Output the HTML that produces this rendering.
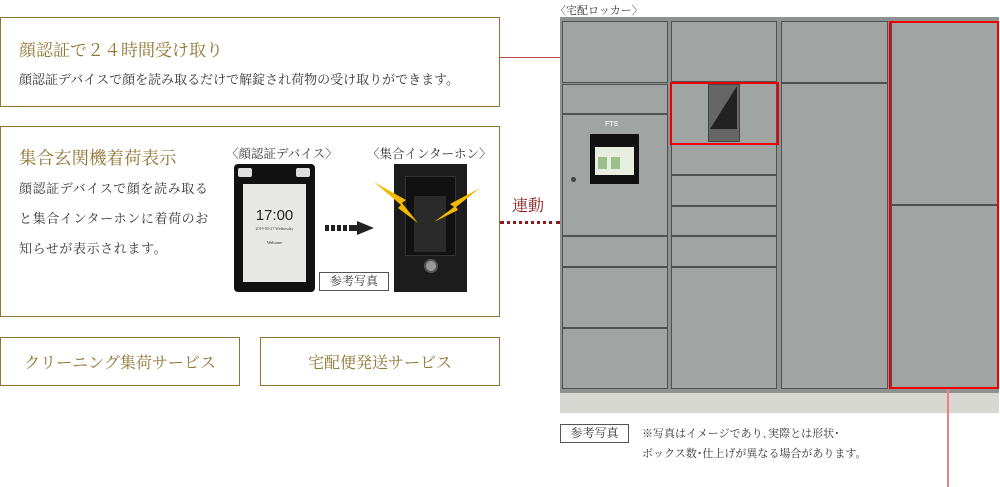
<!DOCTYPE html>
<html><head><meta charset="utf-8"><style>
*{margin:0;padding:0;box-sizing:border-box}
body{width:1000px;height:487px;background:#fff;position:relative;overflow:hidden;font-family:"Liberation Serif","Noto Serif CJK SC",serif;color:#333}
.a{position:absolute}
.box{position:absolute;border:1.5px solid #8f7530}
.gold{color:#8f7530}
.door{position:absolute;background:#a0a4a2;border:1px solid #4d5150}
.ref{position:absolute;border:1px solid #555;font-size:12px;text-align:center;line-height:17px;background:#fff}
</style></head><body>
<div class="box" style="left:0;top:17px;width:500px;height:90px"></div>
<div class="a gold" style="left:19px;top:36px;font-size:17px;white-space:nowrap">顔認証で２４時間受け取り</div>
<div class="a" style="left:19px;top:69px;font-size:13px;white-space:nowrap">顔認証デバイスで顔を読み取るだけで解錠され荷物の受け取りができます。</div>

<div class="box" style="left:0;top:126px;width:500px;height:191px"></div>
<div class="a gold" style="left:19px;top:145px;font-size:17.5px;white-space:nowrap">集合玄関機着荷表示</div>
<div class="a" style="left:19px;top:174px;font-size:13px;line-height:30px;white-space:nowrap;letter-spacing:0.6px">顔認証デバイスで顔を読み取る<br>と集合インターホンに着荷のお<br>知らせが表示されます。</div>
<div class="a" style="left:226px;top:144px;font-size:12.5px;white-space:nowrap">〈顔認証デバイス〉</div>
<div class="a" style="left:367px;top:144px;font-size:12.5px;white-space:nowrap">〈集合インターホン〉</div>
<div class="a" style="left:234px;top:164px;width:81px;height:128px;background:#111;border-radius:4px"></div>
<div class="a" style="left:238px;top:168px;width:14px;height:9px;background:#ddd;border-radius:2px"></div>
<div class="a" style="left:296px;top:168px;width:14px;height:9px;background:#ddd;border-radius:2px"></div>
<div class="a" style="left:243px;top:184px;width:63px;height:98px;background:#e8e8e6"></div>
<div class="a" style="left:243px;top:207px;width:63px;text-align:center;font-family:'Liberation Sans',sans-serif;font-size:15px;color:#222">17:00</div>
<div class="a" style="left:243px;top:226px;width:63px;text-align:center;font-size:4px;color:#444">2019-03-27 Wednesday</div>
<div class="a" style="left:243px;top:240px;width:63px;text-align:center;font-size:4px;color:#222">Welcome</div>
<svg class="a" style="left:324px;top:220px" width="52" height="16"><g fill="#222"><rect x="1" y="5" width="4" height="6"/><rect x="7" y="5" width="4" height="6"/><rect x="13" y="5" width="4" height="6"/><rect x="19" y="5" width="4" height="6"/><rect x="25" y="5" width="8" height="6"/><polygon points="33,1 50,8 33,15"/></g></svg>
<div class="ref" style="left:319px;top:272px;width:70px;height:19px">参考写真</div>
<div class="a" style="left:394px;top:164px;width:73px;height:128px;background:#1c1c1c"></div>
<div class="a" style="left:405px;top:176px;width:51px;height:80px;background:#111;border:1px solid #333"></div>
<div class="a" style="left:414px;top:196px;width:32px;height:56px;background:#2a2a2a"></div>
<div class="a" style="left:424px;top:259px;width:14px;height:14px;border-radius:50%;background:#999;border:2px solid #555"></div>
<svg class="a" style="left:372px;top:180px" width="110" height="50"><polygon points="2,2 34,20 30,23 46,43 26,28 29,25" fill="#f5b800"/><polygon points="108,8 78,24 82,27 62,42 86,30 84,27" fill="#f5b800"/></svg>

<div class="box" style="left:0;top:337px;width:240px;height:49px"></div>
<div class="a gold" style="left:0;top:350px;width:240px;text-align:center;font-size:16px">クリーニング集荷サービス</div>
<div class="box" style="left:260px;top:337px;width:240px;height:49px"></div>
<div class="a gold" style="left:260px;top:350px;width:240px;text-align:center;font-size:16px">宅配便発送サービス</div>

<div class="a" style="left:500px;top:57px;width:222px;height:1px;background:#b44"></div>
<div class="a" style="left:721px;top:57px;width:1px;height:25px;background:#b44"></div>
<div class="a" style="left:512px;top:193px;font-size:16px;color:#8b1a1a">連動</div>
<div class="a" style="left:500px;top:221px;width:60px;border-top:3px dotted #8b1a1a"></div>
<div class="a" style="left:555px;top:2px;font-size:11px;white-space:nowrap">〈宅配ロッカー〉</div>

<div class="a" style="left:560px;top:17px;width:439px;height:396px;background:#8e9391"></div>
<div class="a" style="left:560px;top:393px;width:439px;height:20px;background:#d8d8d2"></div>
<div class="door" style="left:562px;top:21px;width:106px;height:62px"></div>
<div class="door" style="left:562px;top:84px;width:106px;height:30px"></div>
<div class="door" style="left:562px;top:114px;width:106px;height:122px"></div>
<div class="door" style="left:562px;top:236px;width:106px;height:31px"></div>
<div class="door" style="left:562px;top:267px;width:106px;height:61px"></div>
<div class="door" style="left:562px;top:328px;width:106px;height:61px"></div>
<div class="a" style="left:605px;top:121px;font-family:'Liberation Sans',sans-serif;font-size:7px;color:#eee;font-weight:bold">FTS</div>
<div class="a" style="left:590px;top:134px;width:49px;height:50px;background:#111"></div>
<div class="a" style="left:595px;top:147px;width:39px;height:28px;background:#e8efe0"></div>
<div class="a" style="left:598px;top:157px;width:9px;height:12px;background:#9bc08a"></div>
<div class="a" style="left:611px;top:157px;width:9px;height:12px;background:#9bc08a"></div>
<div class="a" style="left:571px;top:177px;width:5px;height:5px;border-radius:50%;background:#444"></div>
<div class="door" style="left:671px;top:21px;width:106px;height:61px"></div>
<div class="door" style="left:671px;top:82px;width:106px;height:93px"></div>
<div class="door" style="left:671px;top:175px;width:106px;height:31px"></div>
<div class="door" style="left:671px;top:206px;width:106px;height:30px"></div>
<div class="door" style="left:671px;top:236px;width:106px;height:31px"></div>
<div class="door" style="left:671px;top:267px;width:106px;height:122px"></div>
<div class="a" style="left:708px;top:84px;width:32px;height:58px;background:#666;border:1px solid #444"></div>
<svg class="a" style="left:710px;top:86px" width="28" height="44"><polygon points="27,0 27,43 0,43" fill="#222"/></svg>
<div class="door" style="left:781px;top:21px;width:107px;height:62px"></div>
<div class="door" style="left:781px;top:83px;width:107px;height:306px"></div>
<div class="door" style="left:891px;top:21px;width:107px;height:184px"></div>
<div class="door" style="left:891px;top:205px;width:107px;height:183px"></div>
<div class="a" style="left:670px;top:82px;width:109px;height:63px;border:2px solid #e00"></div>
<div class="a" style="left:889px;top:21px;width:110px;height:368px;border:2px solid #e00"></div>
<div class="a" style="left:947px;top:389px;width:2px;height:98px;background:#f08080"></div>

<div class="ref" style="left:560px;top:424px;width:69px;height:19px">参考写真</div>
<div class="a" style="left:642px;top:424px;font-size:11px;line-height:20px;white-space:nowrap">※写真はイメージであり､実際とは形状･<br>ボックス数･仕上げが異なる場合があります。</div>
</body></html>
